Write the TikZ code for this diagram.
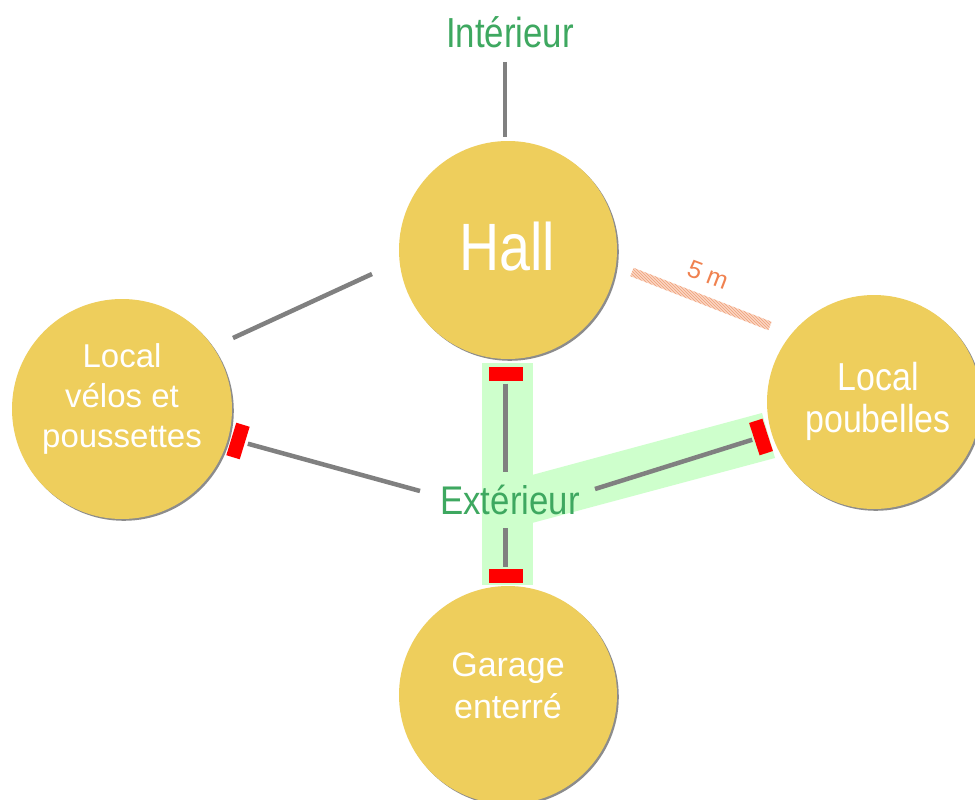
\documentclass[tikz,border=0pt]{standalone}
\usepackage{fontspec}
\setmainfont{Liberation Sans}
\newfontfamily\narrowA{Liberation Sans}[FakeStretch=0.83]
\newfontfamily\narrowB{Liberation Sans}[FakeStretch=0.87]
\usetikzlibrary{shadows,patterns,calc}
\definecolor{roomyellow}{RGB}{238,206,92}
\definecolor{zonegreen}{RGB}{62,168,96}
\definecolor{bandgreen}{RGB}{206,255,204}
\definecolor{doorred}{RGB}{255,0,0}
\definecolor{wallgray}{RGB}{128,128,128}
\definecolor{measorange}{RGB}{240,130,80}
\definecolor{hatchorange}{RGB}{250,214,196}
\definecolor{hatchline}{RGB}{240,160,120}
\tikzset{
  room/.style={circle, fill=roomyellow, inner sep=0pt,
    drop shadow={shadow xshift=1.8pt, shadow yshift=-1.8pt, opacity=0.6, fill=black!75}},
  roomtext/.style={text=white, align=center, inner sep=0pt},
  zonetext/.style={text=zonegreen, inner sep=0pt},
  wall/.style={draw=wallgray, line width=4.5pt},
  doorbox/.style={rectangle, fill=doorred, inner sep=0pt, minimum width=34pt, minimum height=14pt},
  band/.style={fill=bandgreen, draw=none}
}
\begin{document}
\begin{tikzpicture}[x=1pt,y=-1pt]
\useasboundingbox (0,0) rectangle (975,800);
\fill[white] (0,0) rectangle (975,800);

% green outdoor band
\fill[band] (482,363) rectangle (533,585);
\fill[band] (532,475) -- (762,413) -- (775,458) -- (532,523) -- cycle;

% rooms
\node[room, minimum size=218pt] (hall) at (508,250) {};
\node[room, minimum size=220pt] (velos) at (122,409) {};
\node[room, minimum size=214pt] (poub) at (874,402) {};
\node[room, minimum size=218pt] (garage) at (508,695) {};

% room labels
\node[roomtext, font={\narrowA\fontsize{67}{70}\selectfont}] (hallT) at (507,247) {Hall};
\node[roomtext, font={\fontsize{33}{40}\selectfont}] (velosT) at (122,399) {Local\\vélos et\\poussettes};
\node[roomtext, font={\narrowB\fontsize{39}{42}\selectfont}] (poubT) at (878,401) {Local\\poubelles};
\node[roomtext, font={\fontsize{34}{42}\selectfont}] (garageT) at (508,686) {Garage\\enterré};

% zone labels
\node[zonetext, font={\narrowA\fontsize{42}{46}\selectfont}] (intT) at (510,32) {Intérieur};
\node[zonetext, font={\narrowB\fontsize{40}{44}\selectfont}] (extT) at (510,500) {Extérieur};

% doors
\node[doorbox] (dHall) at (505.5,373.5) {};
\node[doorbox] (dGar) at (505.5,576) {};
\node[doorbox, rotate=108] (dPoub) at (761,437) {};
\node[doorbox, rotate=73] (dVelos) at (238,441) {};

% free ends of the links
\coordinate (i1) at (505,62);
\coordinate (i2) at (505,137);
\coordinate (h1) at (372,274);
\coordinate (v1) at (233,338);
\coordinate (e1) at (420,491);
\coordinate (e2) at (505.5,472);
\coordinate (e3) at (505.5,528);
\coordinate (e4) at (595,489);

% links
\draw[wall] (i1) -- (i2);
\draw[wall] (h1) -- (v1);
\draw[wall, shorten <=3pt] (dVelos) -- (e1);
\draw[wall, shorten <=3pt] (dHall) -- (e2);
\draw[wall, shorten >=2pt] (e3) -- (dGar);
\draw[wall, shorten >=2pt] (e4) -- (dPoub);

% 5 m measure (hatched strip)
\coordinate (m1) at (632,272);
\coordinate (m2) at (770,326);
\fill[hatchorange] ($(m1)!4.5pt!90:(m2)$) -- ($(m2)!4.5pt!-90:(m1)$) -- ($(m2)!4.5pt!90:(m1)$) -- ($(m1)!4.5pt!-90:(m2)$) -- cycle;
\fill[pattern=north west lines, pattern color=hatchline] ($(m1)!4.5pt!90:(m2)$) -- ($(m2)!4.5pt!-90:(m1)$) -- ($(m2)!4.5pt!90:(m1)$) -- ($(m1)!4.5pt!-90:(m2)$) -- cycle;
\node[text=measorange, inner sep=0pt, rotate=-21, font={\fontsize{25}{27}\selectfont}] (measT) at (708,275) {5 m};
\end{tikzpicture}
\end{document}
